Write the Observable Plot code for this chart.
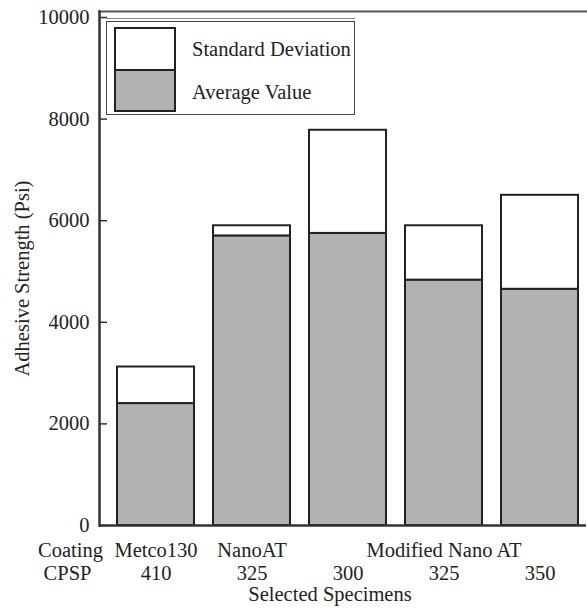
<!DOCTYPE html>
<html>
<head>
<meta charset="utf-8">
<script src="https://cdn.jsdelivr.net/npm/d3@7"></script>
<script src="https://cdn.jsdelivr.net/npm/@observablehq/plot@0.6"></script>
<style>
  body { margin: 0; background: #fff; }
  #wrap { position: relative; width: 587px; height: 610px; font-family: "Liberation Serif", Tinos, "DejaVu Serif", "Noto Serif", serif; color: #222; }
  #legend { position: absolute; left: 106px; top: 21px; width: 249px; height: 94px; border: 1.5px solid #444; background: #fff; box-sizing: border-box; box-shadow: 0 -2px 0 0 #fff, 0 -3px 0 0 #888; }
  .sw { position: absolute; left: 7px; width: 62px; box-sizing: border-box; border: 2px solid #222; }
  .lt { position: absolute; left: 85px; font-size: 20.5px; line-height: 22px; white-space: nowrap; }
</style>
</head>
<body>
<div id="wrap">
  <div id="chart"></div>
  <div id="legend">
    <div class="sw" style="top:5px;height:44px;background:#fff;border-bottom:1px solid #222;"></div>
    <div class="sw" style="top:47px;height:43px;background:#b2b2b2;"></div>
    <div class="lt" style="top:16px;">Standard Deviation</div>
    <div class="lt" style="top:59px;">Average Value</div>
  </div>
</div>
<script>
const specimens = ["Metco130 410", "NanoAT 325", "Modified 300", "Modified 325", "Modified 350"];
const coatingLabels = ["Metco130", "NanoAT", "", "Modified Nano AT", ""];
const cpspLabels = ["410", "325", "300", "325", "350"];
const averageValue = [2400, 5700, 5750, 4830, 4650];
const standardDeviation = [720, 200, 2030, 1070, 1850];
const yTicks = [0, 2000, 4000, 6000, 8000, 10000];

const rows = specimens.map((s, i) => ({
  specimen: s,
  avg: averageValue[i],
  top: averageValue[i] + standardDeviation[i]
}));

const W = 587, H = 610, mL = 99, mR = 1, mT = 11, mB = 85;
const ink = "#222";
const serif = '"Liberation Serif", Tinos, "DejaVu Serif", "Noto Serif", serif';
const fs = 20.5;

const chart = Plot.plot({
  width: W,
  height: H,
  marginLeft: mL,
  marginRight: mR,
  marginTop: mT,
  marginBottom: mB,
  style: { fontFamily: serif, fontSize: fs + "px", color: ink, background: "#fff" },
  x: { domain: specimens, range: [107, 588], paddingInner: 0.2, paddingOuter: 0.1, axis: null },
  y: { domain: [0, 10000], range: [525, 17] },
  marks: [
    Plot.barY(rows, { x: "specimen", y1: 0, y2: "avg", fill: "#b2b2b2", stroke: ink, strokeWidth: 2 }),
    Plot.barY(rows, { x: "specimen", y1: "avg", y2: "top", fill: "#fff", stroke: ink, strokeWidth: 2 }),
    Plot.frame({ anchor: "top", stroke: "#555", strokeWidth: 2 }),
    Plot.frame({ anchor: "left", stroke: "#333", strokeWidth: 2.5 }),
    Plot.ruleY([0], { stroke: "#333", strokeWidth: 2.5 }),
    Plot.tickY(yTicks, { y: d => d, stroke: "#333", strokeWidth: 1.5, insetRight: W - mL - mR - 8 }),
    Plot.axisY({ ticks: yTicks, tickSize: 0, tickPadding: 10, tickFormat: d => String(d), label: null, fill: ink, fontFamily: serif, fontSize: fs }),
    Plot.text(specimens, { x: d => d, text: (d, i) => coatingLabels[i], frameAnchor: "bottom", dy: 31, fill: ink, fontFamily: serif, fontSize: fs }),
    Plot.text(specimens, { x: d => d, text: (d, i) => cpspLabels[i], frameAnchor: "bottom", dy: 54, fill: ink, fontFamily: serif, fontSize: fs }),
    Plot.text(["Coating"], { text: d => d, frameAnchor: "bottom-left", textAnchor: "middle", dx: -29, dy: 31, fill: ink, fontFamily: serif, fontSize: fs }),
    Plot.text(["CPSP"], { text: d => d, frameAnchor: "bottom-left", textAnchor: "middle", dx: -32, dy: 54, fill: ink, fontFamily: serif, fontSize: fs }),
    Plot.text(["Selected Specimens"], { text: d => d, frameAnchor: "bottom", textAnchor: "middle", dx: -13, dy: 75, fill: ink, fontFamily: serif, fontSize: fs }),
    Plot.text(["Adhesive Strength (Psi)"], { text: d => d, frameAnchor: "left", textAnchor: "middle", rotate: -90, dx: -77, dy: 10, fill: ink, fontFamily: serif, fontSize: fs })
  ]
});
document.getElementById("chart").appendChild(chart);
</script>
</body>
</html>
